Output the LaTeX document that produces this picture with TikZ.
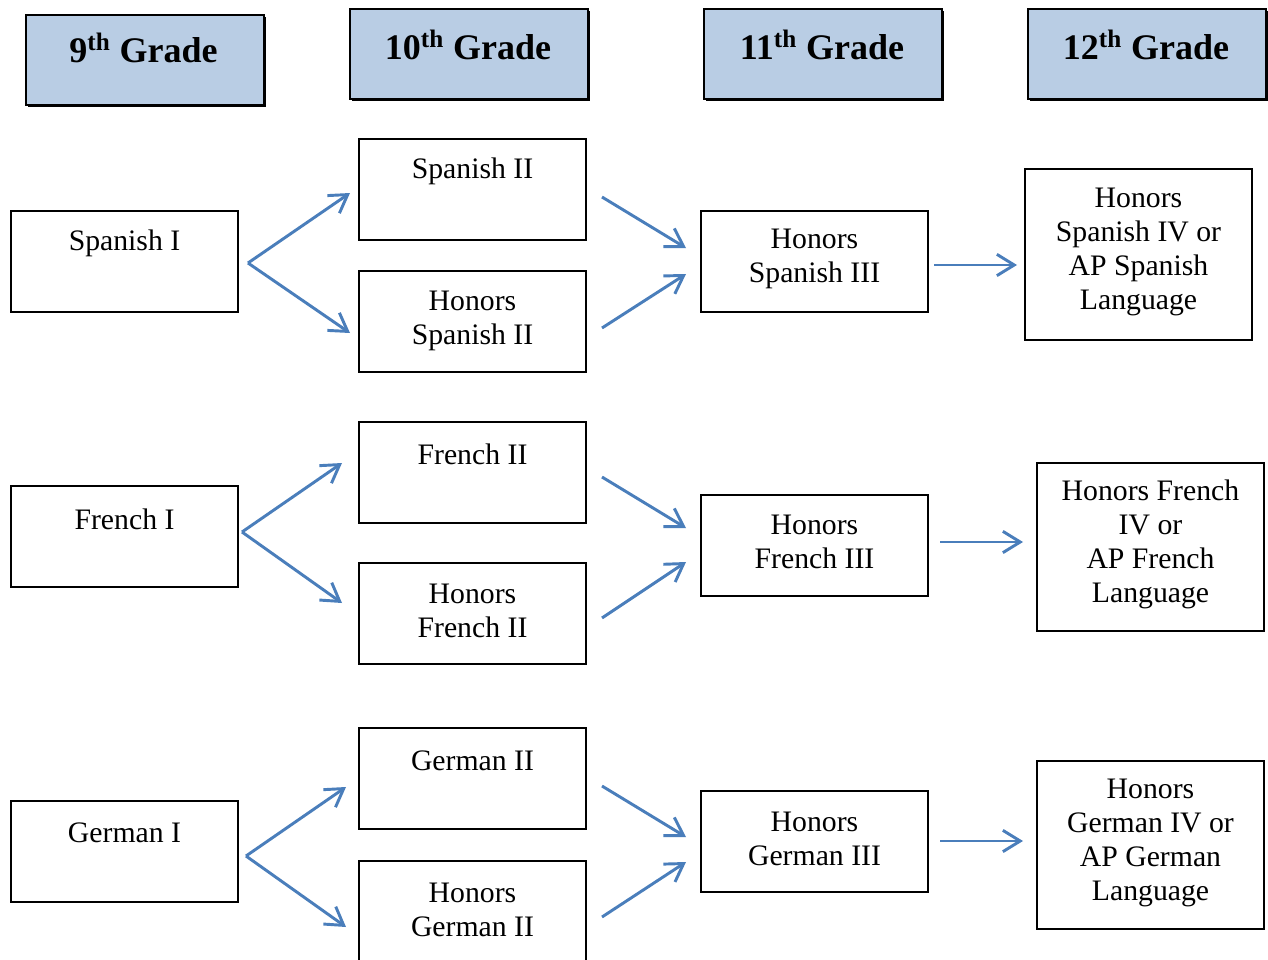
\documentclass[tikz,border=0pt]{standalone}
\usepackage{fontspec}
\setmainfont{Liberation Serif}
\usetikzlibrary{arrows.meta,shadows}
\definecolor{gradefill}{RGB}{185,205,228}
\definecolor{arrowblue}{RGB}{74,126,187}

\begin{document}
\begin{tikzpicture}[x=0.75pt,y=0.75pt,yscale=-1,xscale=1,
  grade/.style={draw, line width=1.5pt, fill=gradefill, minimum width=178.5pt, minimum height=67.5pt, inner sep=0pt,
    general shadow={fill=black, shadow xshift=1.5pt, shadow yshift=-1.5pt}},
  course/.style={draw, line width=1.5pt, minimum width=170.25pt, minimum height=75.75pt, inner sep=0pt},
  tallcourse/.style={course, minimum height=126pt},
  gradetext/.style={font=\fontsize{27}{30}\selectfont\bfseries, inner sep=0pt},
  coursetext/.style={font=\fontsize{22.3}{25.5}\selectfont, align=center, inner sep=0pt},
  link/.style={arrowblue, line width=2.2pt, -{Straight Barb[length=13pt,width=16pt]}}]
\useasboundingbox (0,0) rectangle (1268,960);

%Grade headers
\node [grade] (g9) at (145,59.5) {};
\node [grade] (g10) at (469,54) {};
\node [grade] (g11) at (823,54) {};
\node [grade] (g12) at (1147,54) {};
\node [gradetext] (g9t) at (143.5,48) {9\textsuperscript{th} Grade};
\node [gradetext] (g10t) at (468,45) {10\textsuperscript{th} Grade};
\node [gradetext] (g11t) at (822,45) {11\textsuperscript{th} Grade};
\node [gradetext] (g12t) at (1146,45) {12\textsuperscript{th} Grade};

%Spanish
\node [course] (spanI) at (124.5,261.5) {};
\node [course] (spanII) at (472.5,189.5) {};
\node [course] (hspanII) at (472.5,321.5) {};
\node [course] (hspanIII) at (814.5,261.5) {};
\node [tallcourse, minimum height=128.25pt] (hspanIV) at (1138.5,254.5) {};
\node [coursetext] (spanIt) at (124.5,243) {Spanish I};
\node [coursetext] (spanIIt) at (472.5,171) {Spanish II};
\node [coursetext] (hspanIIt) at (472.5,321) {Honors\\Spanish II};
\node [coursetext] (hspanIIIt) at (814.5,258.5) {Honors\\Spanish III};
\node [coursetext] (hspanIVt) at (1138.5,252) {Honors\\Spanish IV or\\AP Spanish\\Language};

%French
\node [course] (frI) at (124.5,536.5) {};
\node [course] (frII) at (472.5,472.5) {};
\node [course] (hfrII) at (472.5,613.5) {};
\node [course] (hfrIII) at (814.5,545) {};
\node [tallcourse] (hfrIV) at (1150.5,547) {};
\node [coursetext] (frIt) at (124.5,519) {French I};
\node [coursetext] (frIIt) at (472.5,454) {French II};
\node [coursetext] (hfrIIt) at (472.5,611) {Honors\\French II};
\node [coursetext] (hfrIIIt) at (814.5,542) {Honors\\French III};
\node [coursetext] (hfrIVt) at (1150.5,544) {Honors French\\IV or\\AP French\\Language};

%German
\node [course] (gerI) at (124.5,851.5) {};
\node [course] (gerII) at (472.5,778.5) {};
\node [course] (hgerII) at (472.5,911.5) {};
\node [course] (hgerIII) at (814.5,841.5) {};
\node [tallcourse] (hgerIV) at (1150.5,845) {};
\node [coursetext] (gerIt) at (124.5,833) {German I};
\node [coursetext] (gerIIt) at (472.5,761) {German II};
\node [coursetext] (hgerIIt) at (472.5,910) {Honors\\German II};
\node [coursetext] (hgerIIIt) at (814.5,839) {Honors\\German III};
\node [coursetext] (hgerIVt) at (1150.5,842.5) {Honors\\German IV or\\AP German\\Language};

%Arrow ends
\coordinate (s0) at (248,263);
\coordinate (s1) at (350,193);
\coordinate (s2) at (350,333);
\coordinate (s3) at (602,197);
\coordinate (s4) at (686,248);
\coordinate (s5) at (602,328);
\coordinate (s6) at (686,274);
\coordinate (s7) at (934,265);
\coordinate (s8) at (1017,265);
\coordinate (f0) at (242,532);
\coordinate (f1) at (342,463);
\coordinate (f2) at (342,603);
\coordinate (f3) at (602,477);
\coordinate (f4) at (686,528);
\coordinate (f5) at (602,618);
\coordinate (f6) at (686,562);
\coordinate (f7) at (940,542);
\coordinate (f8) at (1023,542);
\coordinate (d0) at (246,856);
\coordinate (d1) at (346,787);
\coordinate (d2) at (346,927);
\coordinate (d3) at (602,786);
\coordinate (d4) at (686,837);
\coordinate (d5) at (602,917);
\coordinate (d6) at (686,862);
\coordinate (d7) at (940,841);
\coordinate (d8) at (1023,841);

%Arrows
\draw [link] (s0) -- (s1);
\draw [link] (s0) -- (s2);
\draw [link] (s3) -- (s4);
\draw [link] (s5) -- (s6);
\draw [link] (s7) -- (s8);
\draw [link] (f0) -- (f1);
\draw [link] (f0) -- (f2);
\draw [link] (f3) -- (f4);
\draw [link] (f5) -- (f6);
\draw [link] (f7) -- (f8);
\draw [link] (d0) -- (d1);
\draw [link] (d0) -- (d2);
\draw [link] (d3) -- (d4);
\draw [link] (d5) -- (d6);
\draw [link] (d7) -- (d8);
\end{tikzpicture}
\end{document}
